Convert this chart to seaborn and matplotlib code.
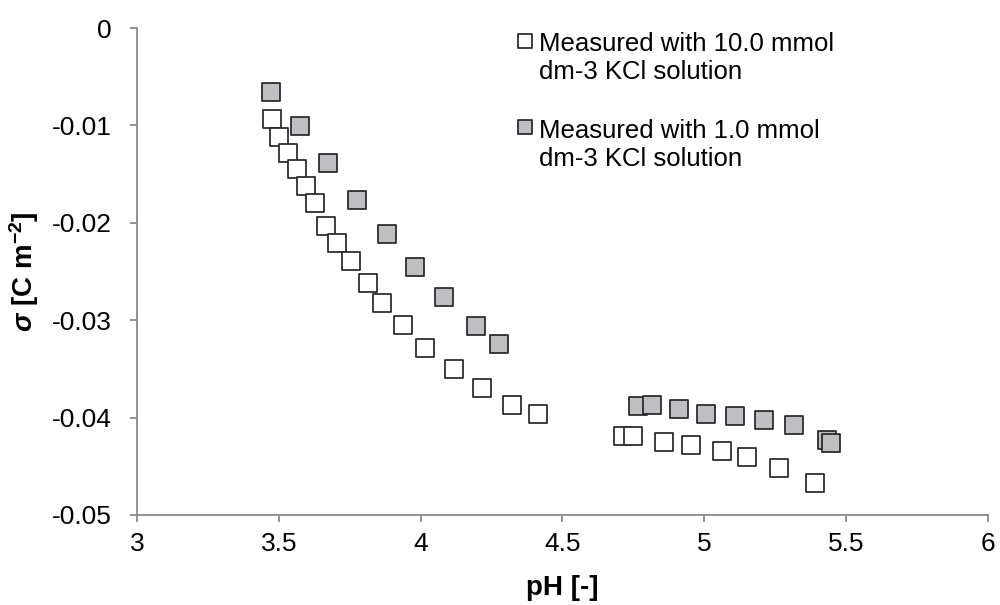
import matplotlib
matplotlib.use("Agg")
import matplotlib.pyplot as plt
import seaborn as sns
import pandas as pd

# Data
ph_10mM = [3.475, 3.499, 3.531, 3.563, 3.595, 3.626, 3.666, 3.705, 3.753, 3.813,
           3.865, 3.937, 4.015, 4.118, 4.215, 4.321, 4.414, 4.713, 4.747, 4.858,
           4.953, 5.062, 5.152, 5.264, 5.391]
sigma_10mM = [-0.0093, -0.0112, -0.0128, -0.0145, -0.0162, -0.0180, -0.0203, -0.0221,
              -0.0239, -0.0262, -0.0282, -0.0305, -0.0329, -0.0350, -0.0370, -0.0387,
              -0.0396, -0.0419, -0.0419, -0.0425, -0.0428, -0.0434, -0.0440, -0.0452,
              -0.0467]

ph_1mM = [3.471, 3.575, 3.674, 3.777, 3.880, 3.980, 4.082, 4.195, 4.277, 4.767,
          4.815, 4.909, 5.006, 5.109, 5.212, 5.316, 5.431, 5.446]
sigma_1mM = [-0.0066, -0.0101, -0.0139, -0.0177, -0.0212, -0.0245, -0.0276, -0.0306,
             -0.0324, -0.0388, -0.0387, -0.0391, -0.0396, -0.0398, -0.0402, -0.0408,
             -0.0423, -0.0426]

label_10 = "Measured with 10.0 mmol\ndm-3 KCl solution"
label_1 = "Measured with 1.0 mmol\ndm-3 KCl solution"

x_ticks = [3, 3.5, 4, 4.5, 5, 5.5, 6]
x_tick_labels = ["3", "3.5", "4", "4.5", "5", "5.5", "6"]
y_ticks = [0, -0.01, -0.02, -0.03, -0.04, -0.05]
y_tick_labels = ["0", "-0.01", "-0.02", "-0.03", "-0.04", "-0.05"]

sns.set_theme(style="white")
plt.rcParams["font.family"] = ["Liberation Sans", "DejaVu Sans"]
plt.rcParams["text.color"] = "black"
plt.rcParams["axes.labelcolor"] = "black"
plt.rcParams["mathtext.fontset"] = "custom"
plt.rcParams["mathtext.rm"] = "Liberation Sans:bold"
plt.rcParams["mathtext.it"] = "Liberation Sans:italic:bold"
plt.rcParams["mathtext.bf"] = "Liberation Sans:bold"

fig = plt.figure(figsize=(10, 6.05), dpi=100)
ax = fig.add_axes([0.137, 0.1488, 0.851, 0.8049])

df10 = pd.DataFrame({"pH": ph_10mM, "sigma": sigma_10mM})
df1 = pd.DataFrame({"pH": ph_1mM, "sigma": sigma_1mM})

edge = "#262626"
sns.scatterplot(data=df10, x="pH", y="sigma", ax=ax, marker="s", s=165,
                color="white", edgecolor=edge, linewidth=1.25, label=label_10,
                zorder=3)
sns.scatterplot(data=df1, x="pH", y="sigma", ax=ax, marker="s", s=165,
                color="#bfbfc3", edgecolor=edge, linewidth=1.25, label=label_1,
                zorder=3)

ax.set_xlim(3, 6)
ax.set_ylim(-0.05, 0)
ax.set_xticks(x_ticks)
ax.set_xticklabels(x_tick_labels)
ax.set_yticks(y_ticks)
ax.set_yticklabels(y_tick_labels)

spine_col = "#898989"
for side in ["top", "right"]:
    ax.spines[side].set_visible(False)
for side in ["left", "bottom"]:
    ax.spines[side].set_color(spine_col)
    ax.spines[side].set_linewidth(1.3)

ax.tick_params(axis="both", which="major", direction="out", length=5, width=1.3,
               color=spine_col, labelsize=19, labelcolor="black")
ax.tick_params(axis="x", bottom=True, pad=7)
ax.tick_params(axis="y", left=True, pad=13)

ax.set_xlabel("pH [-]", fontsize=20, fontweight="bold", labelpad=14, color="black")
ax.set_ylabel(r"$\sigma$ [C m$^{-2}$]", fontsize=20, fontweight="bold", labelpad=8,
              color="black")

leg = ax.legend(loc="upper left", bbox_to_anchor=(0.43, 1.012), frameon=False,
                fontsize=18.5, markerscale=0.78, handletextpad=0.1,
                labelspacing=1.35, borderaxespad=0, handlelength=0.9,
                scatteryoffsets=[1.5])
for t in leg.get_texts():
    t.set_color("black")

fig.savefig("out.png", dpi=100)
